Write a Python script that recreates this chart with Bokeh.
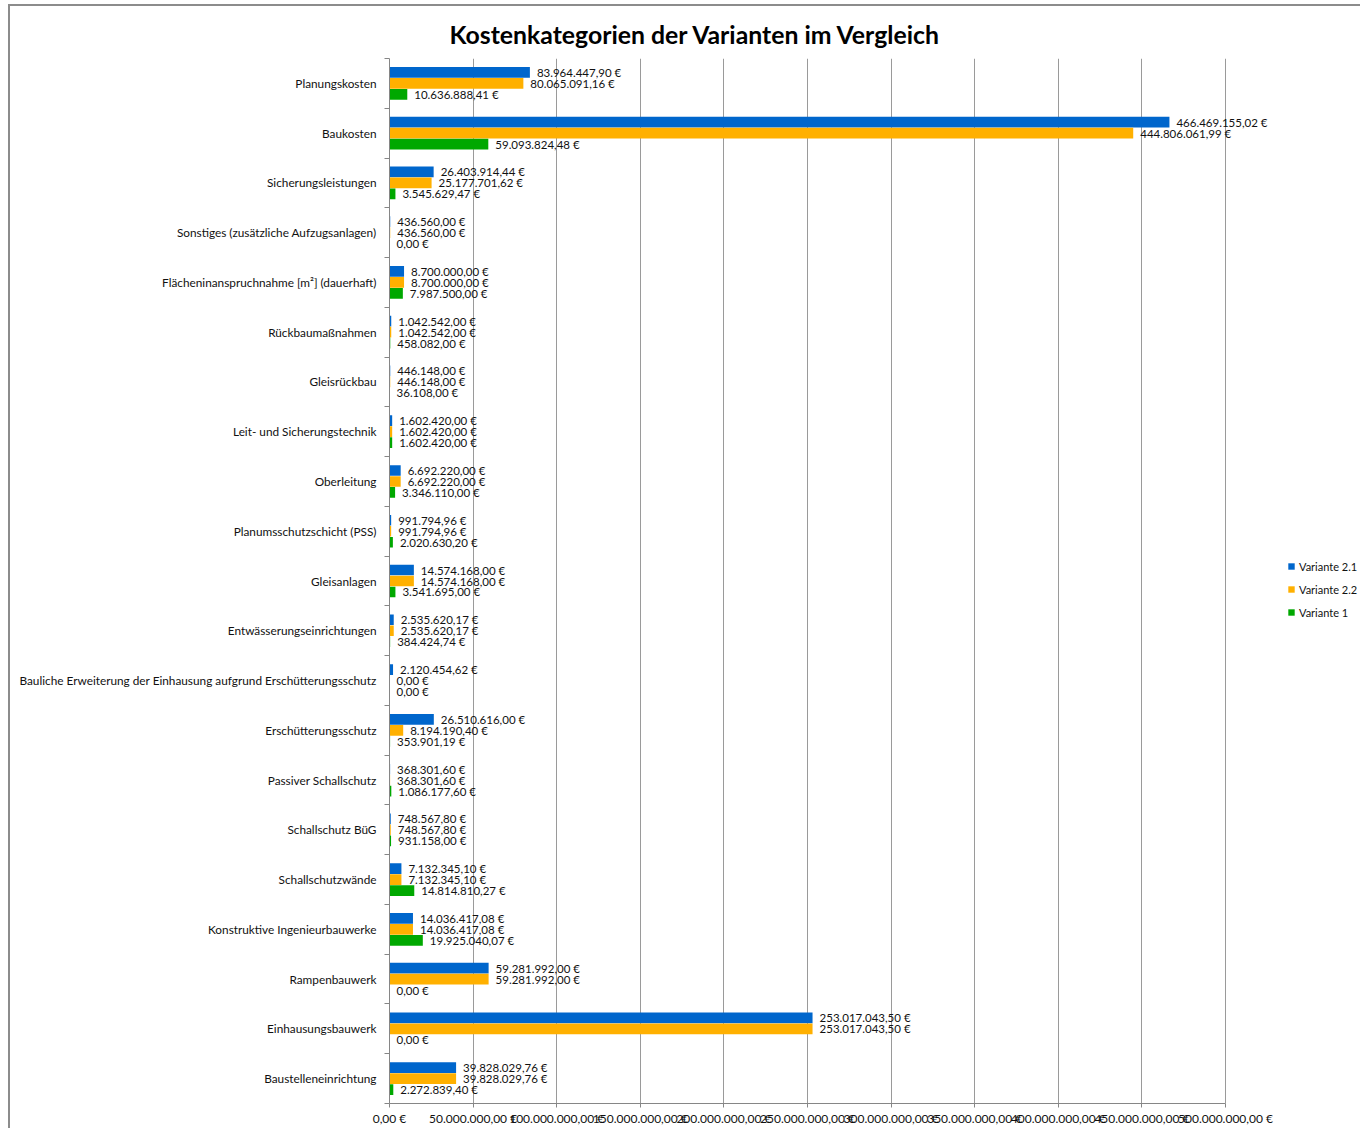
from bokeh.plotting import figure
from bokeh.models import Range1d, FixedTicker, Legend, LegendItem, ColumnDataSource
from bokeh.embed import file_html
from bokeh.resources import INLINE
from bokeh.core.properties import value

categories = [
    "Planungskosten",
    "Baukosten",
    "Sicherungsleistungen",
    "Sonstiges (zusätzliche Aufzugsanlagen)",
    "Flächeninanspruchnahme [m²] (dauerhaft)",
    "Rückbaumaßnahmen",
    "Gleisrückbau",
    "Leit- und Sicherungstechnik",
    "Oberleitung",
    "Planumsschutzschicht (PSS)",
    "Gleisanlagen",
    "Entwässerungseinrichtungen",
    "Bauliche Erweiterung der Einhausung aufgrund Erschütterungsschutz",
    "Erschütterungsschutz",
    "Passiver Schallschutz",
    "Schallschutz BüG",
    "Schallschutzwände",
    "Konstruktive Ingenieurbauwerke",
    "Rampenbauwerk",
    "Einhausungsbauwerk",
    "Baustelleneinrichtung",
]

variante_2_1 = [83964447.90, 466469155.02, 26403914.44, 436560.00, 8700000.00, 1042542.00,
                446148.00, 1602420.00, 6692220.00, 991794.96, 14574168.00, 2535620.17,
                2120454.62, 26510616.00, 368301.60, 748567.80, 7132345.10, 14036417.08,
                59281992.00, 253017043.50, 39828029.76]
variante_2_2 = [80065091.16, 444806061.99, 25177701.62, 436560.00, 8700000.00, 1042542.00,
                446148.00, 1602420.00, 6692220.00, 991794.96, 14574168.00, 2535620.17,
                0.00, 8194190.40, 368301.60, 748567.80, 7132345.10, 14036417.08,
                59281992.00, 253017043.50, 39828029.76]
variante_1 = [10636888.41, 59093824.48, 3545629.47, 0.00, 7987500.00, 458082.00,
              36108.00, 1602420.00, 3346110.00, 2020630.20, 3541695.00, 384424.74,
              0.00, 353901.19, 1086177.60, 931158.00, 14814810.27, 19925040.07,
              0.00, 0.00, 2272839.40]

series_names = ["Variante 2.1", "Variante 2.2", "Variante 1"]
x_ticks = [0, 50e6, 100e6, 150e6, 200e6, 250e6, 300e6, 350e6, 400e6, 450e6, 500e6]
axis_max = 500e6


def eur(v):
    s = f"{v:,.2f}"
    s = s.replace(",", "X").replace(".", ",").replace("X", ".")
    return s + " €"


FONT = "Lato"
colors = ["#0066CC", "#FFB000", "#00A800"]
offsets = [-0.221, 0.0, 0.221]
n = len(categories)

# layout (pixels)
W, H = 1352, 1124
MB_LEFT = 379
AXIS_PX = 836            # pixel length of the 0..500M axis
frame_px = W - MB_LEFT   # frame runs to the right canvas edge (labels/legend not clipped)
x_end = axis_max * frame_px / AXIS_PX

p = figure(width=W, height=H, output_backend="svg", toolbar_location=None,
           x_range=Range1d(0, x_end), y_range=Range1d(n - 0.5, -0.5),
           min_border_left=MB_LEFT, min_border_right=0, min_border_top=52,
           min_border_bottom=27)
p.styles = {"margin-left": "8px", "margin-top": "4px",
            "border-left": "2px solid #8c8c8c", "border-top": "2px solid #8c8c8c"}
p.outline_line_color = None

p.title.text = "Kostenkategorien der Varianten im Vergleich"
p.title.text_font = "Lato"
p.title.text_font_size = "24.8px"
p.title.text_font_style = "bold"
p.title.text_color = "#000000"
p.title.align = "left"
p.title.offset = 60
p.title.standoff = 20

items = []
for name, vals, col, off in zip(series_names, [variante_2_1, variante_2_2, variante_1], colors, offsets):
    src = ColumnDataSource(dict(
        y=[i + off for i in range(n)],
        x=vals,
        label=[eur(v) for v in vals],
    ))
    r = p.hbar(y="y", right="x", left=0, height=0.215, source=src, fill_color=col, line_color=None)
    p.text(x="x", y="y", text="label", source=src, x_offset=7, text_baseline="middle",
           text_align="left", text_font=value(FONT), text_font_size="11.5px", text_color="#111111")
    items.append(LegendItem(label=name, renderers=[r]))

legend = Legend(items=items, location=(898, 481), padding=0, margin=0,
                border_line_color=None, background_fill_alpha=0,
                glyph_width=8, glyph_height=8, label_height=20, spacing=3,
                label_standoff=4, label_text_font=FONT, label_text_font_size="11px",
                label_text_color="#111111")
p.add_layout(legend)

# x axis
p.xaxis.ticker = FixedTicker(ticks=x_ticks, minor_ticks=[])
p.xaxis.bounds = (0, axis_max)
p.xaxis.major_label_overrides = {t: eur(t) for t in x_ticks}
p.xaxis.major_label_text_font = FONT
p.xaxis.major_label_text_font_size = "12px"
p.xaxis.major_label_text_color = "#111111"
p.xaxis.axis_line_color = "#868686"
p.xaxis.major_tick_line_color = "#868686"
p.xaxis.major_tick_out = 4
p.xaxis.major_tick_in = 0
p.xaxis.major_label_standoff = 3

# y axis
centers = list(range(n))
bounds = [i - 0.5 for i in range(n + 1)]
p.yaxis.ticker = FixedTicker(ticks=centers, minor_ticks=bounds)
p.yaxis.major_label_overrides = {i: c for i, c in enumerate(categories)}
p.yaxis.major_label_text_font = FONT
p.yaxis.major_label_text_font_size = "11.8px"
p.yaxis.major_label_text_color = "#111111"
p.yaxis.axis_line_color = "#868686"
p.yaxis.major_tick_out = 0
p.yaxis.major_tick_in = 0
p.yaxis.minor_tick_out = 5
p.yaxis.minor_tick_in = 0
p.yaxis.minor_tick_line_color = "#868686"
p.yaxis.major_label_standoff = 8

p.xgrid.grid_line_color = "#9a9a9a"
p.xgrid.grid_line_width = 1
p.xgrid.ticker = FixedTicker(ticks=x_ticks)
p.ygrid.grid_line_color = None

open("out.html", "w").write(file_html(p, INLINE))
